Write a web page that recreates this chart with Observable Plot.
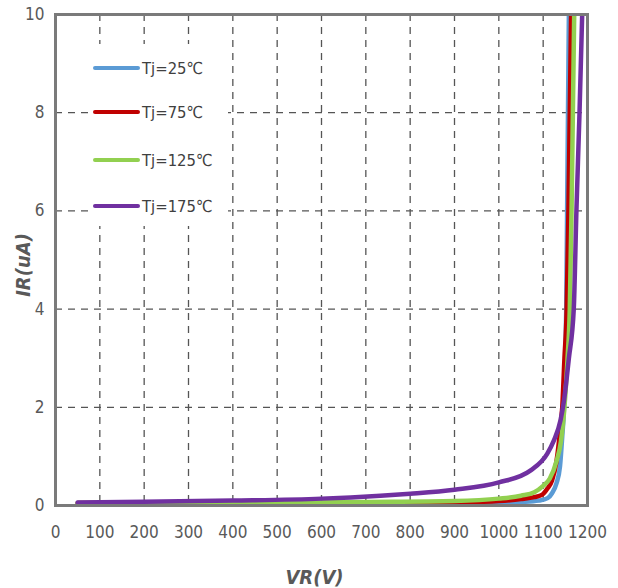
<!DOCTYPE html>
<html>
<head>
<meta charset="utf-8">
<script src="https://cdn.jsdelivr.net/npm/d3@7"></script>
<script src="https://cdn.jsdelivr.net/npm/@observablehq/plot@0.6"></script>
<style>
  body { margin: 0; background: #fff; }
  #wrap { position: relative; width: 618px; height: 588px; }
  #legend { position: absolute; left: 89px; top: 44px; width: 139px; height: 182px; background: #fff;
            font-family: "Liberation Sans Narrow", "DejaVu Sans Condensed", "Open Sans", sans-serif; font-size: 16.5px; color: #404040; }
  .row { position: absolute; left: 4px; height: 20px; display: flex; align-items: center; }
  .sw { width: 47px; height: 4px; border-radius: 2px; margin-right: 2px; }
</style>
</head>
<body>
<div id="wrap"><div id="legend"></div></div>
<script>
const seriesNames = ["Tj=25℃", "Tj=75℃", "Tj=125℃", "Tj=175℃"];
const seriesColors = ["#5B9BD5", "#C00000", "#92D050", "#7030A0"];

const v25  = [50, 500, 900, 1000, 1050, 1090, 1110, 1120, 1130, 1138, 1143, 1147, 1150, 1152, 1154, 1156, 1158];
const i25  = [0.04, 0.04, 0.04, 0.05, 0.07, 0.10, 0.15, 0.25, 0.45, 0.80, 1.40, 2.0, 3.0, 4.0, 6.0, 8.0, 10.0];

const v75  = [50, 500, 800, 900, 1000, 1050, 1080, 1098, 1110, 1120, 1130, 1139, 1143, 1148, 1153, 1157, 1160, 1163];
const i75  = [0.05, 0.05, 0.05, 0.06, 0.09, 0.13, 0.17, 0.22, 0.35, 0.51, 0.90, 1.60, 2.0, 3.0, 4.0, 6.0, 8.0, 10.0];

const v125 = [50, 500, 700, 900, 1000, 1050, 1080, 1100, 1115, 1130, 1140, 1148, 1155, 1160, 1164, 1167, 1170];
const i125 = [0.05, 0.055, 0.07, 0.09, 0.14, 0.20, 0.27, 0.40, 0.55, 0.90, 1.30, 2.0, 3.0, 4.0, 6.0, 8.0, 10.0];

const v175 = [50, 200, 400, 600, 733, 800, 900, 1000, 1071, 1109, 1124, 1139, 1147, 1158, 1169, 1175, 1182, 1188];
const i175 = [0.06, 0.075, 0.10, 0.14, 0.20, 0.24, 0.32, 0.47, 0.71, 1.05, 1.32, 1.73, 2.14, 3.0, 4.0, 6.0, 8.0, 10.0];

const xTicks = [0, 100, 200, 300, 400, 500, 600, 700, 800, 900, 1000, 1100, 1200];
const yTicks = [0, 2, 4, 6, 8, 10];

const volts = [v25, v75, v125, v175];
const amps = [i25, i75, i125, i175];
const data = [];
seriesNames.forEach((s, k) => volts[k].forEach((v, j) => data.push({series: s, V: v, I: amps[k][j]})));

const font = `"Liberation Sans Narrow", "DejaVu Sans Condensed", "Open Sans", sans-serif`;

const chart = Plot.plot({
  width: 618,
  height: 588,
  marginLeft: 55,
  marginRight: 31,
  marginTop: 14,
  marginBottom: 83,
  style: {fontFamily: font, fontSize: "17px", color: "#595959", background: "#fff"},
  x: {domain: [0, 1200]},
  y: {domain: [0, 10]},
  color: {domain: seriesNames, range: seriesColors},
  marks: [
    Plot.ruleX(xTicks.slice(1, -1), {stroke: "#555", strokeWidth: 1.3, strokeDasharray: "7,6"}),
    Plot.ruleY(yTicks.slice(1, -1), {stroke: "#555", strokeWidth: 1.3, strokeDasharray: "7,6"}),
    Plot.line(data, {x: "V", y: "I", z: "series", stroke: "series", strokeWidth: 4.5, curve: "monotone-x", clip: true}),
    Plot.frame({stroke: "#7a7a7a", strokeWidth: 3}),
    Plot.axisX(xTicks, {tickSize: 0, tickPadding: 20, tickFormat: d => String(d), label: "VR(V)", labelAnchor: "center", labelArrow: "none", labelOffset: 78, fill: "#595959"}),
    Plot.axisY(yTicks, {tickSize: 0, tickPadding: 11, tickFormat: d => String(d), label: "IR(uA)", labelAnchor: "center", labelArrow: "none", labelOffset: 40, fill: "#595959"})
  ]
});
document.getElementById("wrap").prepend(chart);

chart.querySelectorAll("g[aria-label='x-axis label'] text, g[aria-label='y-axis label'] text").forEach(t => {
  t.style.fontWeight = "bold"; t.style.fontStyle = "italic"; t.style.fontSize = "20px";
});
chart.querySelectorAll("g[aria-label='x-axis label'] text").forEach(t => t.setAttribute("dx", "-7"));
chart.querySelectorAll("g[aria-label='y-axis label'] text").forEach(t => t.setAttribute("dx", "-5"));

const legend = document.getElementById("legend");
const rowTops = [24, 68, 116, 162];
seriesNames.forEach((s, k) => {
  const r = document.createElement("div");
  r.className = "row";
  r.style.top = (rowTops[k] - 10) + "px";
  r.innerHTML = `<div class="sw" style="background:${seriesColors[k]}"></div><span>${s}</span>`;
  legend.appendChild(r);
});
</script>
</body>
</html>
